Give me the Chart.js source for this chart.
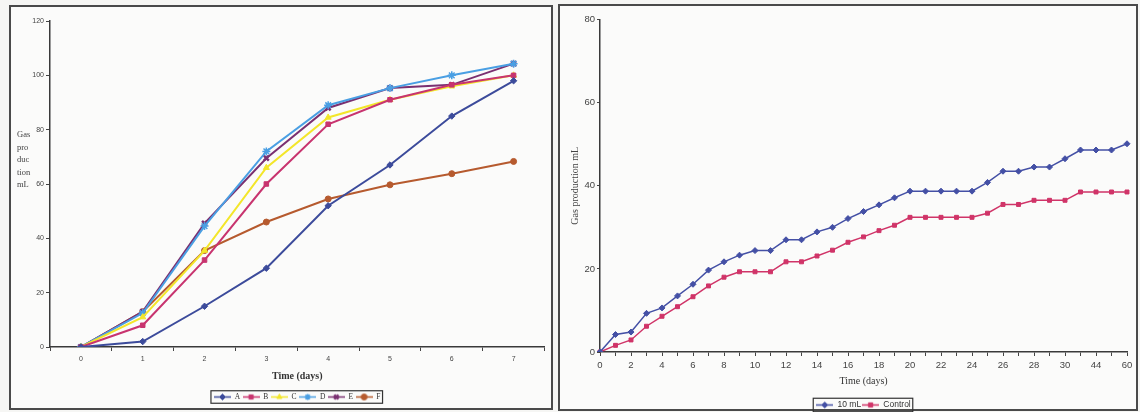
<!DOCTYPE html>
<html>
<head>
<meta charset="utf-8">
<script src="https://cdn.jsdelivr.net/npm/chart.js@4.4.0/dist/chart.umd.min.js"></script>
<style>
  html, body { margin: 0; padding: 0; }
  body { width: 1140px; height: 412px; overflow: hidden; background: #f6f6f4; position: relative; }
  canvas { position: absolute; }
  .frame { position: absolute; box-sizing: border-box; border: 2px solid #4a4a4a; background: #fbfbfa; }
</style>
</head>
<body>
<div class="frame" style="left:9px;top:5px;width:544px;height:405px"></div>
<div class="frame" style="left:558px;top:4px;width:580px;height:407px"></div>
<canvas id="left" width="541" height="406" style="left:10px;top:6px"></canvas>
<canvas id="right" width="576" height="416" style="left:560px;top:6px"></canvas>
<script>
// left chart: gas production per treatment, days 0-7
const days = ['0', '1', '2', '3', '4', '5', '6', '7'];
const seriesA = [0, 2, 15, 29, 52, 67, 85, 98];
const seriesB = [0, 8, 32, 60, 82, 91, 96.5, 100];
const seriesC = [0, 11, 35.5, 66, 84.5, 91, 96, 100];
const seriesD = [0, 12.5, 44.5, 72, 89, 95.3, 100, 104.3];
const seriesE = [0, 13, 45.5, 69.5, 88, 95.3, 96.5, 104.3];
const seriesF = [0, 13, 35.5, 46, 54.5, 59.7, 63.8, 68.3];
const leftTicks = [0, 20, 40, 60, 80, 100, 120];

// right chart: 10 mL vs control
const days2 = ['0', '1', '2', '3', '4', '5', '6', '7', '8', '9', '10', '11', '12', '13', '14', '15',
  '16', '17', '18', '19', '20', '21', '22', '23', '24', '25', '26', '27', '28', '29', '30', '37', '44', '52', '60'];
const tenML = [0, 4.2, 4.8, 9.3, 10.6, 13.5, 16.3, 19.7, 21.7, 23.3, 24.4, 24.4, 27, 27, 28.9, 30,
  32.1, 33.8, 35.4, 37.1, 38.7, 38.7, 38.7, 38.7, 38.7, 40.8, 43.5, 43.5, 44.5, 44.5, 46.5, 48.6, 48.6, 48.6, 50.1];
const control = [0, 1.6, 2.9, 6.2, 8.6, 10.9, 13.3, 15.9, 18, 19.3, 19.3, 19.3, 21.7, 21.7, 23.1, 24.5,
  26.4, 27.7, 29.2, 30.5, 32.4, 32.4, 32.4, 32.4, 32.4, 33.4, 35.5, 35.5, 36.5, 36.5, 36.5, 38.5, 38.5, 38.5, 38.5];
const rightTicks = [0, 20, 40, 60, 80];

const serif = '"Liberation Serif", "Times New Roman", serif';
const sans = '"Liberation Sans", Arial, sans-serif';
const ink = '#3a3a3a';

// small line+marker sample for the legend, excel style
function legendIcon(ds) {
  const c = document.createElement('canvas');
  c.width = 17;
  c.height = 9;
  const g = c.getContext('2d');
  g.strokeStyle = ds.borderColor;
  g.lineWidth = 1.5;
  g.beginPath();
  g.moveTo(0, 4.5);
  g.lineTo(17, 4.5);
  g.stroke();
  g.fillStyle = ds.borderColor;
  g.lineWidth = ds.pointBorderWidth || 1;
  Chart.helpers.drawPoint(g, { pointStyle: ds.pointStyle, radius: 3, borderWidth: g.lineWidth, rotation: 0 }, 8.5, 4.5);
  return c;
}

function iconLabels(chart) {
  return chart.data.datasets.map((ds, i) => ({
    text: ds.label,
    pointStyle: legendIcon(ds),
    fillStyle: ds.borderColor,
    strokeStyle: ds.borderColor,
    lineWidth: 0,
    hidden: false,
    datasetIndex: i,
    fontColor: '#333'
  }));
}

// box round the legend
const legendFrame = {
  id: 'legendFrame',
  afterDraw(chart) {
    const boxes = chart.legend.legendHitBoxes;
    if (!boxes.length) return;
    const l = Math.min(...boxes.map(b => b.left));
    const r = Math.max(...boxes.map(b => b.left + b.width));
    const t = boxes[0].top;
    const h = boxes[0].height;
    const ctx = chart.ctx;
    ctx.save();
    ctx.strokeStyle = '#333';
    ctx.lineWidth = 1.2;
    ctx.strokeRect(l - 3, t - 2.5, r - l + 5, h + 5);
    ctx.restore();
  }
};

// stacked horizontal y title on the left chart
const sideTitle = {
  id: 'sideTitle',
  afterDraw(chart, args, opts) {
    if (!opts.lines) return;
    const ctx = chart.ctx;
    ctx.save();
    ctx.font = opts.font;
    ctx.fillStyle = opts.color;
    ctx.textBaseline = 'middle';
    opts.lines.forEach((t, i) => ctx.fillText(t, opts.x, opts.y + i * opts.step));
    ctx.restore();
  }
};

function series(label, data, color, style, radius, bw) {
  return {
    label: label,
    data: data,
    borderColor: color,
    backgroundColor: color,
    pointBackgroundColor: color,
    pointBorderColor: color,
    pointStyle: style,
    pointRadius: radius,
    pointBorderWidth: bw || 1,
    borderWidth: 2,
    tension: 0
  };
}

new Chart(document.getElementById('left'), {
  type: 'line',
  data: {
    labels: days,
    datasets: [
      series('A', seriesA, '#3c4b9b', 'rectRot', 3.2),
      series('B', seriesB, '#c8346f', 'rect', 3.2),
      series('C', seriesC, '#f3e62a', 'triangle', 3.5),
      series('D', seriesD, '#4a9fe3', 'star', 4, 1.5),
      series('E', seriesE, '#7a3071', 'crossRot', 3.5, 2.5),
      series('F', seriesF, '#b65a2e', 'circle', 3)
    ]
  },
  options: {
    responsive: false,
    animation: false,
    devicePixelRatio: 1,
    layout: { padding: { top: 15, right: 5, bottom: 1.25, left: 0 } },
    plugins: {
      legend: {
        position: 'bottom',
        fullSize: false,
        labels: {
          usePointStyle: true,
          pointStyleWidth: 17,
          boxHeight: 7.5,
          padding: 2.5,
          color: '#333',
          font: { family: serif, size: 7.5 },
          generateLabels: iconLabels
        }
      },
      tooltip: { enabled: false },
      sideTitle: {
        lines: ['Gas', 'pro', 'duc', 'tion', 'mL'],
        x: 7, y: 129, step: 12.5,
        font: '8.5px ' + serif,
        color: '#444'
      }
    },
    scales: {
      x: {
        offset: true,
        grid: { offset: true, drawOnChartArea: false, tickLength: 4, color: '#444' },
        border: { color: ink, width: 1.5 },
        ticks: { padding: 3.8, maxRotation: 0, color: '#444', font: { family: sans, size: 7 } },
        title: {
          display: true,
          text: 'Time (days)',
          color: '#333',
          font: { family: serif, size: 10, weight: 'bold' },
          padding: { top: 0, bottom: 8.75 }
        },
        afterFit: s => { s.height = 43.75; }
      },
      y: {
        min: leftTicks[0],
        max: leftTicks[leftTicks.length - 1],
        grid: { drawOnChartArea: false, tickLength: 4, color: '#444' },
        border: { color: ink, width: 1.5 },
        ticks: { stepSize: 20, padding: 2, color: '#444', font: { family: sans, size: 7 } },
        afterFit: s => { s.width = 40; }
      }
    }
  },
  plugins: [sideTitle, legendFrame]
});

const right1 = series('10 mL', tenML, '#4450a5', 'rectRot', 3);
const right2 = series('Control', control, '#d03468', 'rect', 2.8);
right1.borderWidth = 1.5;
right2.borderWidth = 1.5;

new Chart(document.getElementById('right'), {
  type: 'line',
  data: { labels: days2, datasets: [right1, right2] },
  options: {
    responsive: false,
    animation: false,
    devicePixelRatio: 1,
    layout: { padding: { top: 13.5, right: 9, bottom: 2.75, left: 0 } },
    plugins: {
      legend: {
        position: 'bottom',
        fullSize: false,
        labels: {
          usePointStyle: true,
          pointStyleWidth: 17,
          boxHeight: 8.5,
          padding: 1,
          color: '#333',
          font: { family: sans, size: 8.5 },
          generateLabels: iconLabels
        }
      },
      tooltip: { enabled: false }
    },
    scales: {
      x: {
        grid: { drawOnChartArea: false, tickLength: 4, color: '#444' },
        border: { color: ink, width: 1.5 },
        ticks: {
          autoSkip: false,
          maxRotation: 0,
          padding: 3.3,
          color: '#444',
          font: { family: sans, size: 9.5 },
          callback: (v, i) => (i % 2 === 0 ? days2[i] : '')
        },
        title: {
          display: true,
          text: 'Time (days)',
          color: '#333',
          font: { family: serif, size: 10 },
          padding: { top: 0, bottom: 12.25 }
        },
        afterFit: s => { s.height = 47.75; }
      },
      y: {
        min: rightTicks[0],
        max: rightTicks[rightTicks.length - 1],
        grid: { drawOnChartArea: false, tickLength: 3, color: '#444' },
        border: { color: ink, width: 1.5 },
        ticks: { stepSize: 20, padding: 2, color: '#444', font: { family: sans, size: 9.5 } },
        title: {
          display: true,
          text: 'Gas production mL',
          color: '#444',
          font: { family: serif, size: 10 },
          padding: { top: 9.7, bottom: 0 }
        },
        afterFit: s => { s.width = 40; }
      }
    }
  },
  plugins: [legendFrame]
});
</script>
</body>
</html>
